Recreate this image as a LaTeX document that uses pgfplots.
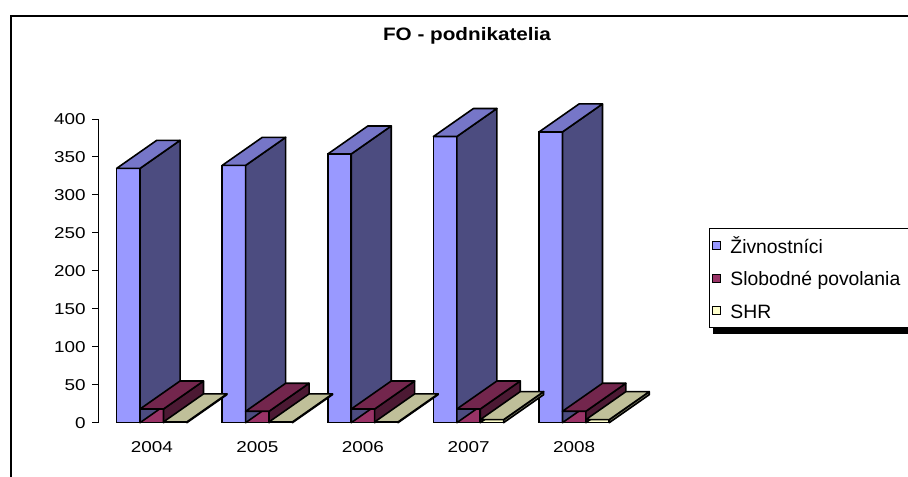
\documentclass[border=0pt]{standalone}
\usepackage{pgfplots}
\pgfplotsset{compat=1.18}
\usepackage{pgfplotstable}
\usepackage{fontspec}
\setmainfont{Liberation Sans}
\newfontfamily\tickfont{Liberation Sans}[FakeStretch=1.2]
\newfontfamily\titlefont{Liberation Sans}[FakeStretch=1.15]

\definecolor{zivF}{HTML}{9999FF}
\definecolor{zivT}{HTML}{7676C8}
\definecolor{zivS}{HTML}{4C4C80}
\definecolor{slobF}{HTML}{993366}
\definecolor{slobT}{HTML}{73264D}
\definecolor{slobS}{HTML}{4C1933}
\definecolor{shrF}{HTML}{FFFFCC}
\definecolor{shrT}{HTML}{BFBF99}
\definecolor{shrS}{HTML}{808066}

\pgfplotstableread{
x ziv slob shr
0 335 18 1
1 339 15 1
2 354 18 1
3 377 18 4
4 383 15 4
}\data

\def\yu{0.5693}
\def\bw{17.55}
\def\ddx{30}
\def\ddy{21}
\def\lw{1.2pt}

% 3D side and top faces of a bar, drawn as a plot mark at the data point
\newcommand\declarecube[4]{%
\pgfdeclareplotmark{#1}{%
 \pgfmathsetmacro\cubeh{\rawy*\yu}%
 \pgfmathsetmacro\xl{#2-\bw/2}%
 \pgfmathsetmacro\xr{#2+\bw/2}%
 \filldraw[fill=#4, draw=black, line width=\lw, line join=round]
   (\xr pt,0pt) -- (\xr pt+\ddx pt,\ddy pt) -- (\xr pt+\ddx pt,\ddy pt-\cubeh pt) -- (\xr pt,-\cubeh pt) -- cycle;
 \filldraw[fill=#3, draw=black, line width=\lw, line join=round]
   (\xl pt,0pt) -- (\xr pt,0pt) -- (\xr pt+\ddx pt,\ddy pt) -- (\xl pt+\ddx pt,\ddy pt) -- cycle;
}}
\declarecube{cubeZ}{-17.55}{zivT}{zivS}
\declarecube{cubeS}{0}{slobT}{slobS}
\declarecube{cubeH}{17.55}{shrT}{shrS}

\begin{document}
\begin{tikzpicture}
\begin{axis}[
  x=79.2pt, y=\yu pt,
  xmin=-0.5066, xmax=4.5, ymin=0, ymax=400,
  clip=false,
  axis y line*=left, axis x line*=bottom,
  axis line style={-},
  x axis line style={draw=none},
  y axis line style={line width=0.75pt, black},
  xtick={0,1,2,3,4}, xticklabels={2004,2005,2006,2007,2008},
  major x tick style={draw=none},
  ytick={0,50,...,400},
  tick align=outside, major tick length=4.5pt,
  major y tick style={line width=0.75pt, black},
  /pgf/number format/assume math mode=true,
  yticklabel style={font=\tickfont\fontsize{11.8}{13}\selectfont, anchor=east, xshift=-1.5pt},
  xticklabel style={font=\tickfont\fontsize{11.8}{13}\selectfont, anchor=north, yshift=-6pt},
  title={FO - podnikatelia},
  title style={font=\titlefont\bfseries\fontsize{13.5}{15}\selectfont, at={(0.6974,1.231)}, anchor=base},
  legend style={name=leg, at={(1.1551,0.6403)}, anchor=north west, draw=black, line width=0.75pt,
     font=\fontsize{14.5}{16}\selectfont,
     nodes={inner sep=0pt, text height=12pt, text depth=1pt},
     row sep=11.4pt, column sep=6.75pt, inner xsep=2.25pt, inner ysep=6.25pt},
  legend cell align=left,
  legend image code/.code={\draw[#1, draw=black, line width=0.75pt] (0pt,-3pt) rectangle (6pt,3pt);},
]
\addplot[ybar, bar width=\bw pt, bar shift=-\bw pt, fill=zivF, draw=black, line width=\lw] table[x=x,y=ziv]{\data};
\addlegendentry{Živnostníci}
\addplot[scatter, only marks, mark=cubeZ, forget plot, visualization depends on={y \as \rawy}] table[x=x,y=ziv]{\data};
\addplot[ybar, bar width=\bw pt, bar shift=0pt, fill=slobF, draw=black, line width=\lw] table[x=x,y=slob]{\data};
\addlegendentry{Slobodné povolania\rule{20pt}{0pt}}
\addplot[scatter, only marks, mark=cubeS, forget plot, visualization depends on={y \as \rawy}] table[x=x,y=slob]{\data};
\addplot[ybar, bar width=\bw pt, bar shift=\bw pt, fill=shrF, draw=black, line width=\lw] table[x=x,y=shr]{\data};
\addlegendentry{SHR}
\addplot[scatter, only marks, mark=cubeH, forget plot, visualization depends on={y \as \rawy}] table[x=x,y=shr]{\data};
\end{axis}
\fill[black] ([xshift=3pt]leg.south west) rectangle ([xshift=30pt,yshift=-4.5pt]leg.south east);
\draw[line width=1.5pt, black] (-65.25pt,-200pt) -- (-65.25pt,305.25pt) -- (800pt,305.25pt);
\pgfresetboundingbox
\useasboundingbox (-73.7pt,-40pt) rectangle (607.3pt,317pt);
\end{tikzpicture}
\end{document}
